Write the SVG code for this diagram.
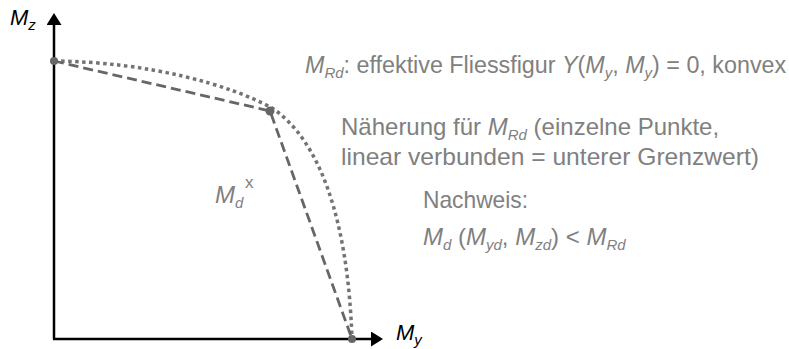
<svg xmlns="http://www.w3.org/2000/svg" width="789" height="349" viewBox="0 0 789 349">
<defs>
<style>
.t{font-family:"Liberation Sans",Arial,sans-serif;font-size:24px;fill:#808080}
.ax{font-family:"Liberation Sans",Arial,sans-serif;font-size:22px;fill:#000}
.i{font-style:italic}
.s{font-size:15px}
.axis{stroke:#000;stroke-width:2.5;fill:none}
.dot{stroke:#737373;stroke-width:3.5;stroke-dasharray:3.5 3.5;fill:none}
.dash{stroke:#666;stroke-width:2.8;stroke-dasharray:10 5;fill:none}
.pt{fill:#666}
</style>
<marker id="ah" viewBox="0 0 12 15" refX="0" refY="7.5" markerWidth="12" markerHeight="15" markerUnits="userSpaceOnUse" orient="auto">
<path d="M0,0 L12,7.5 L0,15 Z" fill="#000"/>
</marker>
</defs>
<g id="axes">
<path class="axis" d="M54,339 L54,25" marker-end="url(#ah)"/>
<path class="axis" d="M53,339 L371,339" marker-end="url(#ah)"/>
<text class="ax i" x="10" y="25">M<tspan class="s" dy="5">z</tspan></text>
<text class="ax i" x="396" y="340">M<tspan class="s" dy="5">y</tspan></text>
</g>
<g id="connectors">
<path class="dot" d="M54,61 C150,62 230,85 272,108 C320,140 348,220 352,339"/>
<path class="dash" d="M54,61 L270,111 L352,339"/>
</g>
<g id="points">
<circle class="pt" cx="54" cy="61" r="4"/>
<circle class="pt" cx="270" cy="111" r="4.5"/>
<circle class="pt" cx="352" cy="339" r="4"/>
</g>
<g id="md">
<text class="t i" x="215" y="203">M<tspan class="s" dy="5">d</tspan></text>
<text class="t" x="245" y="188" style="font-size:17px">x</text>
</g>
<g id="label-mrd">
<text class="t" x="305" y="73" style="font-size:23.3px"><tspan class="i">M</tspan><tspan class="s i" dy="5">Rd</tspan><tspan dy="-5">: effektive Fliessfigur </tspan><tspan class="i">Y</tspan>(<tspan class="i">M</tspan><tspan class="s i" dy="5">y</tspan><tspan dy="-5">, </tspan><tspan class="i">M</tspan><tspan class="s i" dy="5">y</tspan><tspan dy="-5">) = 0, konvex</tspan></text>
</g>
<g id="label-naeherung">
<text class="t" x="341" y="135">Näherung für <tspan class="i">M</tspan><tspan class="s i" dy="5">Rd</tspan><tspan dy="-5"> (einzelne Punkte,</tspan></text>
<text class="t" x="341" y="165" textLength="418" lengthAdjust="spacingAndGlyphs">linear verbunden = unterer Grenzwert)</text>
</g>
<g id="label-nachweis">
<text class="t" x="423" y="208" textLength="105" lengthAdjust="spacingAndGlyphs">Nachweis:</text>
<text class="t" x="423" y="245"><tspan class="i">M</tspan><tspan class="s i" dy="5">d</tspan><tspan dy="-5"> (</tspan><tspan class="i">M</tspan><tspan class="s i" dy="5">yd</tspan><tspan dy="-5">, </tspan><tspan class="i">M</tspan><tspan class="s i" dy="5">zd</tspan><tspan dy="-5">) &lt; </tspan><tspan class="i">M</tspan><tspan class="s i" dy="5">Rd</tspan></text>
</g>
</svg>
